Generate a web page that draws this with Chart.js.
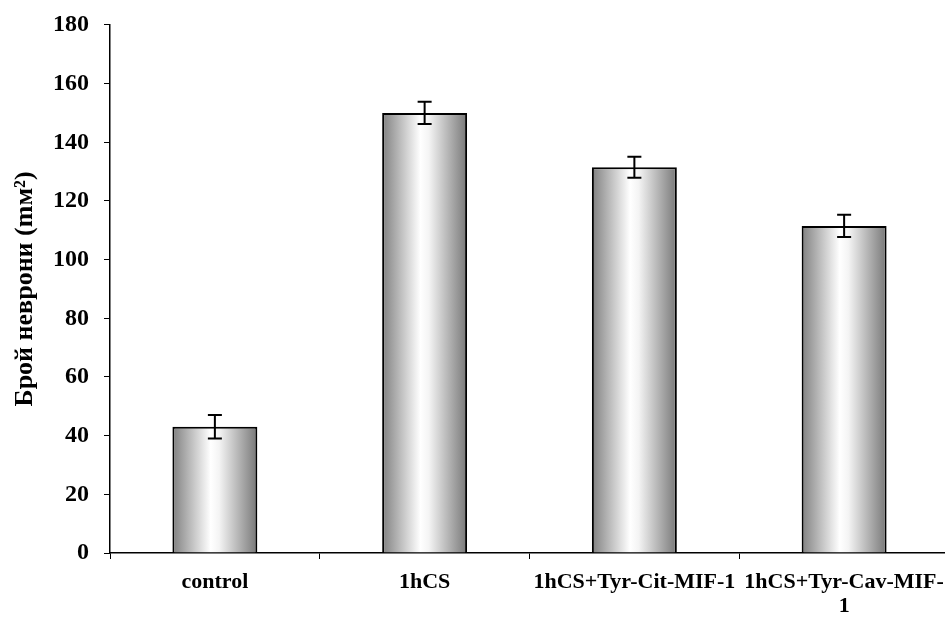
<!DOCTYPE html>
<html>
<head>
<meta charset="utf-8">
<script src="https://cdn.jsdelivr.net/npm/chart.js@4/dist/chart.umd.min.js"></script>
<style>
  html, body { margin: 0; padding: 0; background: #fff; overflow: hidden; }
  #neuronChart { display: block; }
</style>
</head>
<body>
<canvas id="neuronChart" width="950" height="621"></canvas>
<script>
const categories = ["control", "1hCS", "1hCS+Tyr-Cit-MIF-1", ["1hCS+Tyr-Cav-MIF-", "1"]];
const neuronCounts = [43, 150, 131.5, 111.5];
const neuronErrors = [4, 3.8, 3.6, 3.8];
const yTicks = [0, 20, 40, 60, 80, 100, 120, 140, 160, 180];

const BAR_FRACTION = 0.405;
const serif = "'Liberation Serif', 'DejaVu Serif', serif";

// draws the black error bars with caps on top of every bar
const errorBars = {
    id: "errorBars",
    afterDatasetsDraw(chart) {
        const ctx = chart.ctx;
        const y = chart.scales.y;
        const meta = chart.getDatasetMeta(0);
        ctx.save();
        ctx.strokeStyle = "#000";
        ctx.lineWidth = 2;
        meta.data.forEach((bar, i) => {
            const top = y.getPixelForValue(neuronCounts[i] + neuronErrors[i]);
            const bottom = y.getPixelForValue(neuronCounts[i] - neuronErrors[i]);
            const cap = 7;
            ctx.beginPath();
            ctx.moveTo(bar.x, top);
            ctx.lineTo(bar.x, bottom);
            ctx.moveTo(bar.x - cap, top);
            ctx.lineTo(bar.x + cap, top);
            ctx.moveTo(bar.x - cap, bottom);
            ctx.lineTo(bar.x + cap, bottom);
            ctx.stroke();
        });
        ctx.restore();
    }
};

function cylinderFill(context) {
    const chart = context.chart;
    const xs = chart.scales.x;
    if (!chart.chartArea || !xs) return "#cccccc";
    const cx = xs.getPixelForValue(context.dataIndex);
    const w = (xs.width / categories.length) * BAR_FRACTION;
    const g = chart.ctx.createLinearGradient(cx - w / 2, 0, cx + w / 2, 0);
    g.addColorStop(0, "#808080");
    g.addColorStop(0.45, "#ffffff");
    g.addColorStop(0.55, "#f4f4f4");
    g.addColorStop(1, "#787878");
    return g;
}

new Chart(document.getElementById("neuronChart"), {
    type: "bar",
    data: {
        labels: categories,
        datasets: [{
            data: neuronCounts,
            backgroundColor: cylinderFill,
            borderColor: "#000",
            borderWidth: 2,
            borderSkipped: "start",
            barPercentage: BAR_FRACTION,
            categoryPercentage: 1
        }]
    },
    options: {
        responsive: false,
        animation: false,
        layout: { padding: { left: 10, right: 1, top: 0, bottom: 0 } },
        plugins: {
            legend: { display: false },
            tooltip: { enabled: false }
        },
        scales: {
            x: {
                afterFit: s => { s.height = 68; s.paddingRight = 0; s.paddingLeft = 0; },
                border: { color: "#000", width: 1.5 },
                grid: { offset: true, drawOnChartArea: false, color: "#000", tickLength: 6 },
                ticks: {
                    color: "#000",
                    padding: 11,
                    maxRotation: 0,
                    autoSkip: false,
                    font: { family: serif, size: 22, weight: "bold", lineHeight: "24px" }
                }
            },
            y: {
                min: 0,
                max: 180,
                afterFit: s => { s.width = 100; },
                afterBuildTicks: s => { s.ticks = yTicks.map(v => ({ value: v })); },
                border: { color: "#000", width: 1.5 },
                grid: { drawOnChartArea: false, color: "#000", tickLength: 6 },
                ticks: {
                    color: "#000",
                    padding: 15,
                    font: { family: serif, size: 24, weight: "bold", lineHeight: 0.83 }
                },
                title: {
                    display: true,
                    text: "Брой неврони (mм²)",
                    color: "#000",
                    padding: 0,
                    font: { family: serif, size: 26, weight: "bold" }
                }
            }
        }
    },
    plugins: [errorBars]
});
</script>
</body>
</html>
